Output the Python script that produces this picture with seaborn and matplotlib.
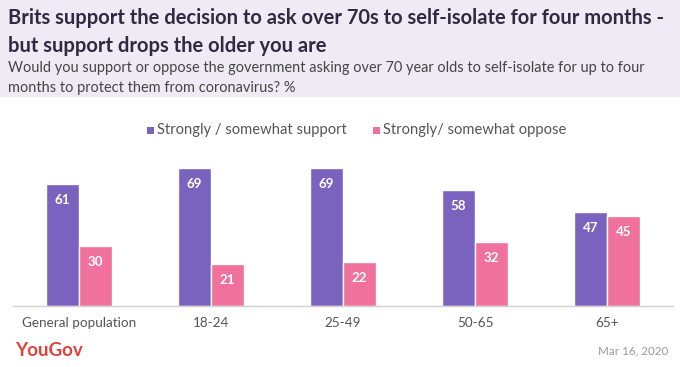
import pandas as pd
import seaborn as sns
import matplotlib.pyplot as plt
from matplotlib.patches import Rectangle

groups = ['General population', '18-24', '25-49', '50-65', '65+']
support = [61, 69, 69, 58, 47]
oppose = [30, 21, 22, 32, 45]
series = ['Strongly / somewhat support', 'Strongly/ somewhat oppose']

df = pd.DataFrame({
    'group': groups * 2,
    'value': support + oppose,
    'series': [series[0]] * len(groups) + [series[1]] * len(groups),
})

sns.set_theme(style='white')
plt.rcParams['font.family'] = ['Lato', 'DejaVu Sans']
colors = ['#7a62bf', '#f0719c']

fig = plt.figure(figsize=(6.8, 3.67), dpi=100)
W, H = 680, 367

# header band
fig.patches.append(Rectangle((0, 1 - 97 / H), 1, 97 / H, transform=fig.transFigure,
                             facecolor='#eeebf5', edgecolor='none', zorder=0))
fig.text(8 / W, 1 - 18 / H, 'Brits support the decision to ask over 70s to self-isolate for four months -',
         fontsize=14.5, fontweight='bold', color='#2f2a3f', va='center')
fig.text(8 / W, 1 - 46 / H, 'but support drops the older you are',
         fontsize=14.5, fontweight='bold', color='#2f2a3f', va='center')
fig.text(8 / W, 1 - 68 / H, 'Would you support or oppose the government asking over 70 year olds to self-isolate for up to four',
         fontsize=10.45, color='#444444', va='center')
fig.text(8 / W, 1 - 88 / H, 'months to protect them from coronavirus? %',
         fontsize=10.45, color='#444444', va='center')

# axes: x 13..673, baseline at y=306, 2px per unit
ax = fig.add_axes([13 / W, 1 - 306 / H, 660 / W, 150 / H])
sns.barplot(data=df, x='group', y='value', hue='series', palette=colors,
            width=0.5, saturation=1, ax=ax, legend=False)
ax.set_xlim(-0.5, 4.5)
ax.set_ylim(0, 75)
ax.set_xlabel('')
ax.set_ylabel('')
ax.set_yticks([])
for s in ['top', 'left', 'right']:
    ax.spines[s].set_visible(False)
ax.spines['bottom'].set_color('#d0d0d0')
ax.spines['bottom'].set_linewidth(1)
ax.tick_params(axis='x', length=0, pad=8, labelsize=9.7, labelcolor='#555555')

for container in ax.containers:
    for bar in container:
        h = bar.get_height()
        ax.text(bar.get_x() + bar.get_width() / 2, h - 8, f'{h:.0f}',
                ha='center', va='center', color='white', fontsize=9.6, fontweight='bold')

# legend
fig.patches.append(Rectangle((147 / W, 1 - 134 / H), 7 / W, 7 / H, transform=fig.transFigure,
                             facecolor=colors[0], edgecolor='none'))
fig.text(157 / W, 1 - 130 / H, series[0], fontsize=10.6, color='#555555', va='center')
fig.patches.append(Rectangle((373 / W, 1 - 134 / H), 7 / W, 7 / H, transform=fig.transFigure,
                             facecolor=colors[1], edgecolor='none'))
fig.text(383 / W, 1 - 130 / H, series[1], fontsize=10.6, color='#555555', va='center')

# footer
fig.text(15 / W, 1 - 351 / H, 'YouGov', fontsize=13.5, fontweight='bold', color='#e5413a', va='center')
fig.text(668 / W, 1 - 351 / H, 'Mar 16, 2020', fontsize=8.4, color='#999999', va='center', ha='right')

fig.savefig('out.png', dpi=100)
